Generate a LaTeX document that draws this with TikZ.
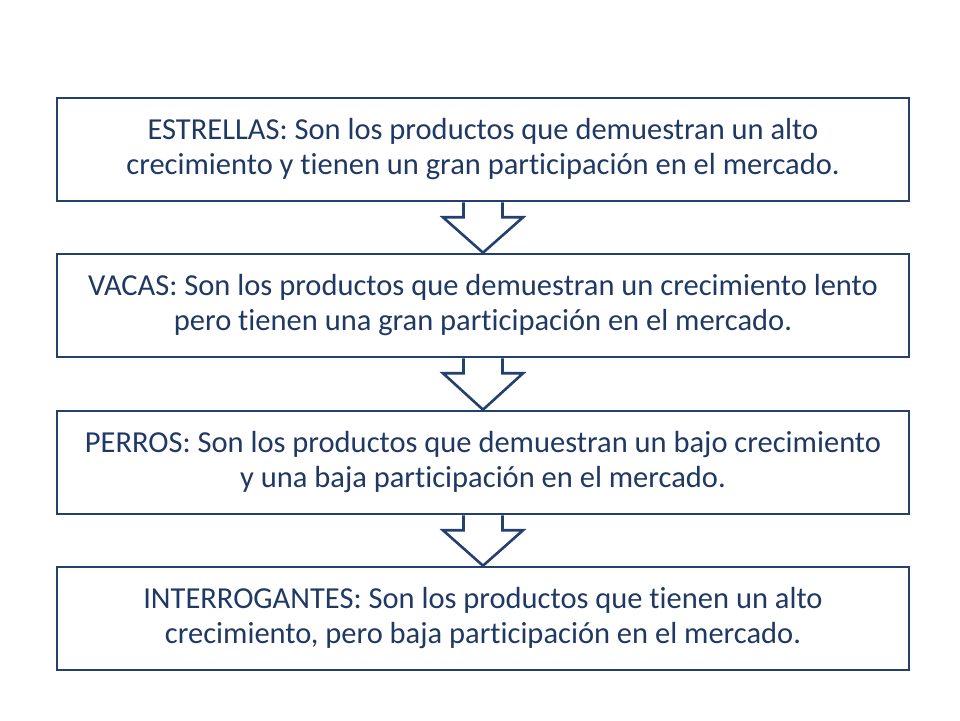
\documentclass[tikz,border=0pt]{standalone}
\usepackage{fontspec}
\setmainfont{Carlito}[Ligatures={NoCommon}]
\usetikzlibrary{calc}
\definecolor{navy}{RGB}{35,64,110}
\definecolor{navytext}{RGB}{31,56,100}
\tikzset{
  stagebox/.style={draw=navy, line width=2.6pt, fill=white, minimum width=852pt, minimum height=103pt, inner sep=0pt,
    align=center, text=navytext, font=\fontsize{30.5}{35}\selectfont},
  flowarrow/.style={draw=navy, line width=2.6pt, line join=miter}
}
\begin{document}
\begin{tikzpicture}[x=1pt,y=1pt]
\useasboundingbox (0,0) rectangle (960,720);
\node[stagebox] (b1) at (483,570.5) {ESTRELLAS: Son los productos que demuestran un alto\\crecimiento y tienen un gran participación en el mercado.};
\node[stagebox] (b2) at (483,414.5) {VACAS: Son los productos que demuestran un crecimiento lento\\pero tienen una gran participación en el mercado.};
\node[stagebox] (b3) at (483,257.5) {PERROS: Son los productos que demuestran un bajo crecimiento\\y una baja participación en el mercado.};
\node[stagebox] (b4) at (483,101.5) {INTERROGANTES: Son los productos que tienen un alto\\crecimiento, pero baja participación en el mercado.};
\foreach \a/\b in {b1/b2,b2/b3,b3/b4}{
  \coordinate (s) at (\a.south);
  \coordinate (t) at (\b.north);
  \fill[white] ($(s)+(-19.5,0)$) -- ($(s)+(-19.5,-15)$) -- ($(s)+(-40,-15)$) -- (t) -- ($(s)+(40,-15)$) -- ($(s)+(19.5,-15)$) -- ($(s)+(19.5,0)$) -- cycle;
  \draw[flowarrow] ($(s)+(-19.5,0)$) -- ($(s)+(-19.5,-15)$) -- ($(s)+(-40,-15)$) -- (t) -- ($(s)+(40,-15)$) -- ($(s)+(19.5,-15)$) -- ($(s)+(19.5,0)$);
}
\end{tikzpicture}
\end{document}
